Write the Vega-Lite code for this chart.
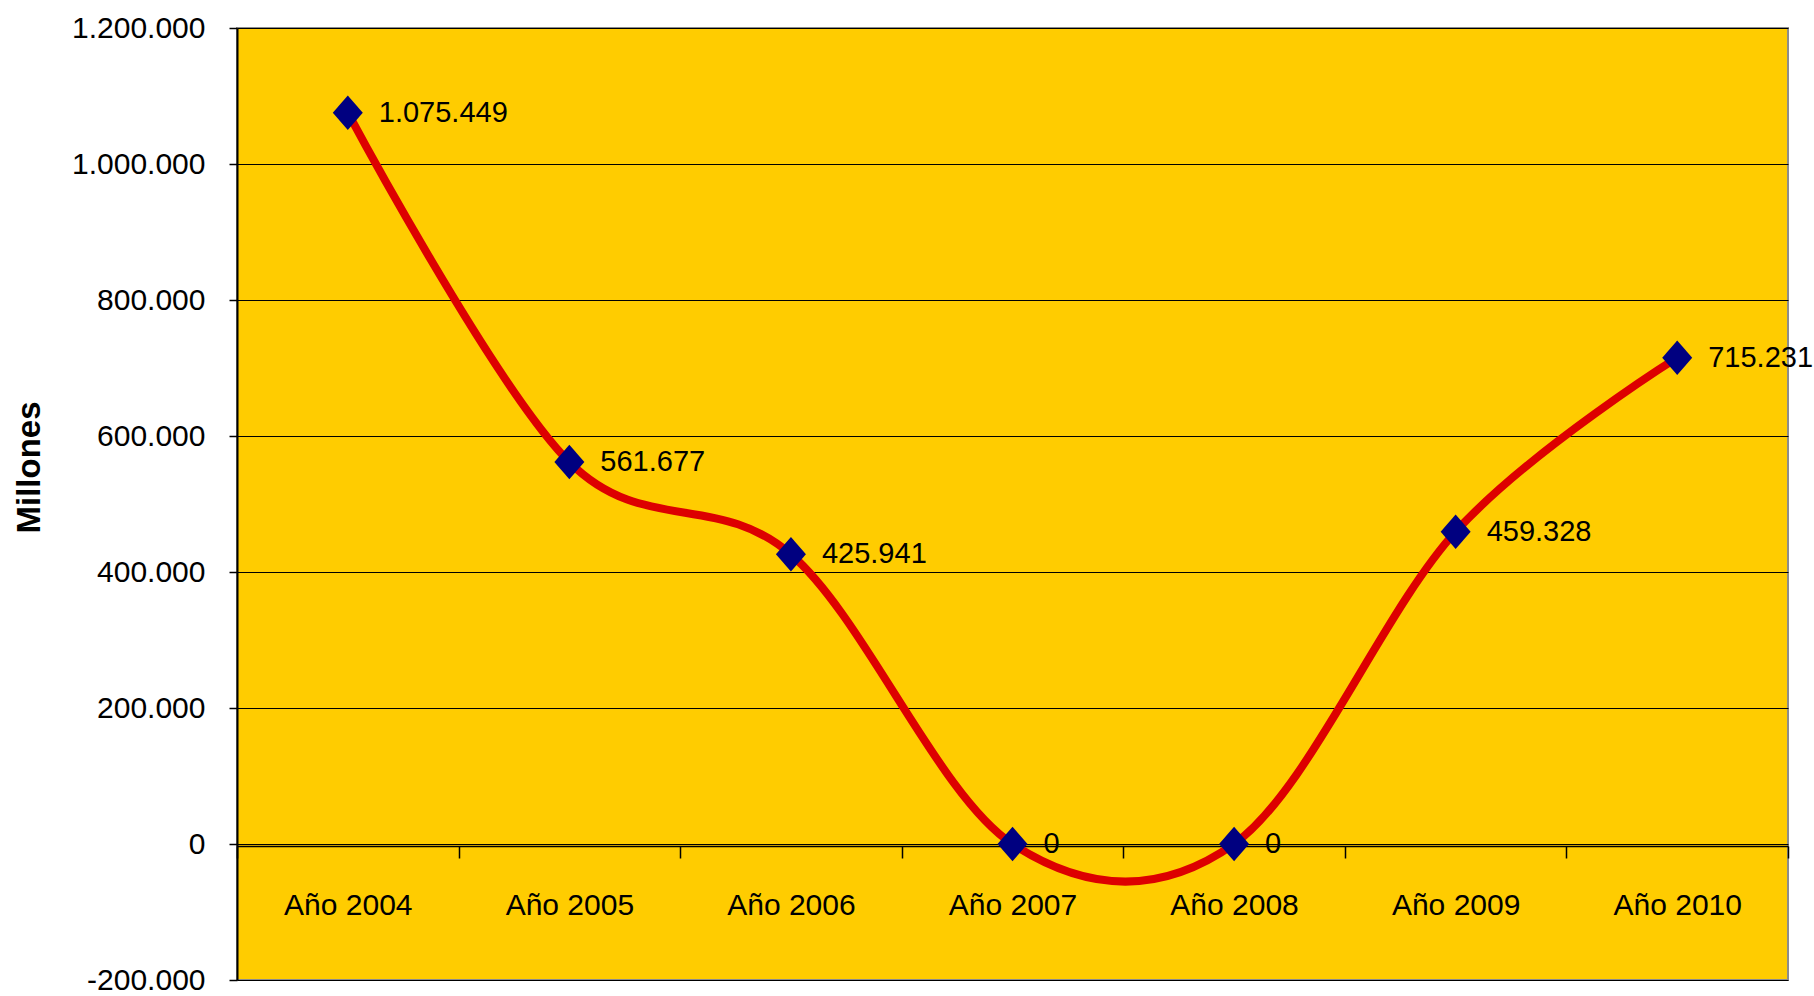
{
  "$schema": "https://vega.github.io/schema/vega-lite/v6.json",
  "autosize": {"type": "none"},
  "padding": {"left": 237, "top": 28, "right": 26, "bottom": 16},
  "width": 1551,
  "height": 952,
  "background": "white",
  "config": {
    "view": {"fill": "#FFCC00", "stroke": "#8C8C8C", "strokeWidth": 2},
    "font": "Liberation Sans"
  },
  "data": {
    "values": [
      {"year": "Año 2004", "value": 1075449, "label": "1.075.449"},
      {"year": "Año 2005", "value": 561677, "label": "561.677"},
      {"year": "Año 2006", "value": 425941, "label": "425.941"},
      {"year": "Año 2007", "value": 0, "label": "0"},
      {"year": "Año 2008", "value": 0, "label": "0"},
      {"year": "Año 2009", "value": 459328, "label": "459.328"},
      {"year": "Año 2010", "value": 715231, "label": "715.231"}
    ]
  },
  "encoding": {
    "x": {
      "field": "year",
      "type": "nominal",
      "sort": null,
      "scale": {"type": "band", "paddingInner": 0, "paddingOuter": 0},
      "axis": {
        "title": null,
        "orient": "bottom",
        "offset": -134,
        "labelAngle": 0,
        "labelFont": "Liberation Sans",
        "labelFontSize": 30,
        "labelColor": "black",
        "labelPadding": 32,
        "tickBand": "extent",
        "tickSize": 12,
        "tickColor": "black",
        "tickWidth": 1.5,
        "domainColor": "black",
        "domainWidth": 1.5,
        "grid": false
      }
    },
    "y": {
      "field": "value",
      "type": "quantitative",
      "scale": {"domain": [-200000, 1200000], "nice": false, "zero": false},
      "axis": {
        "title": "Millones",
        "titleFont": "Liberation Sans",
        "titleFontSize": 33,
        "titleFontWeight": "bold",
        "titleColor": "black",
        "titleAngle": 270,
        "titleAlign": "center",
        "titleBaseline": "middle",
        "titleX": -208,
        "titleY": 439,
        "values": [-200000, 0, 200000, 400000, 600000, 800000, 1000000, 1200000],
        "labelExpr": "replace(replace(format(datum.value, ',d'), /,/g, '.'), /\u2212/g, '-')",
        "labelFont": "Liberation Sans",
        "labelFontSize": 30,
        "labelColor": "black",
        "labelPadding": 24,
        "tickSize": 8,
        "tickColor": "black",
        "tickWidth": 1.5,
        "domainColor": "black",
        "domainWidth": 2,
        "grid": true,
        "gridColor": "black",
        "gridWidth": 1.2,
        "gridOpacity": 1
      }
    }
  },
  "layer": [
    {
      "mark": {"type": "line", "interpolate": "cardinal", "tension": 0, "color": "#DD0000", "strokeWidth": 8}
    },
    {
      "mark": {"type": "point", "shape": "M-1,0L0,-1.15L1,0L0,1.15Z", "size": 900, "filled": true, "color": "#000080", "opacity": 1}
    },
    {
      "mark": {"type": "text", "align": "left", "baseline": "middle", "dx": 31, "fontSize": 29, "font": "Liberation Sans", "color": "black"},
      "encoding": {"text": {"field": "label"}}
    }
  ]
}
